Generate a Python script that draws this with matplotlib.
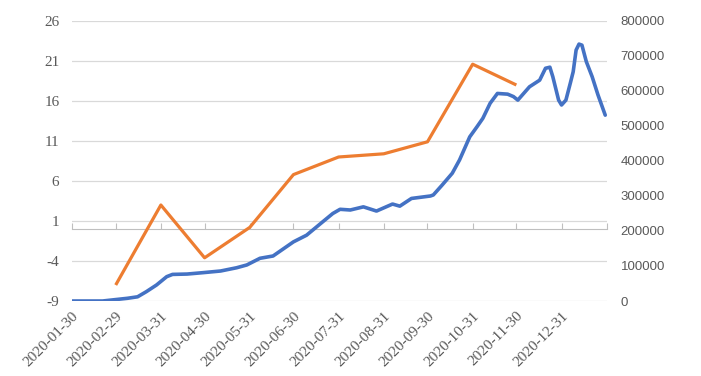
"""plot.py
Monthly series (left axis) against a daily series (right axis), 2020-01-30 .. 2021-01-31.
"""

import matplotlib

matplotlib.use("Agg")

import matplotlib.dates as mdates
import matplotlib.pyplot as plt
import numpy as np

plt.rcParams["font.family"] = ["Liberation Serif", "DejaVu Serif"]
plt.rcParams["axes.unicode_minus"] = False

# ---------------------------------------------------------------------------
# Data
# ---------------------------------------------------------------------------

month_dates = [
    "2020-02-29", "2020-03-31", "2020-04-30", "2020-05-31", "2020-06-30",
    "2020-07-31", "2020-08-31", "2020-09-30", "2020-10-31", "2020-11-30",
]
month_values = [-7.0, 3.0, -3.6, 0.2, 6.8, 9.0, 9.4, 10.9, 20.6, 18.0]

daily_dates = [
    "2020-01-30", "2020-02-20", "2020-03-08", "2020-03-15", "2020-03-21",
    "2020-03-28", "2020-04-04", "2020-04-08", "2020-04-18", "2020-04-29",
    "2020-05-11", "2020-05-22", "2020-05-29", "2020-06-07", "2020-06-16",
    "2020-06-30", "2020-07-09", "2020-07-20", "2020-07-27", "2020-08-01",
    "2020-08-08", "2020-08-17", "2020-08-26", "2020-09-06", "2020-09-11",
    "2020-09-19", "2020-10-02", "2020-10-04", "2020-10-10", "2020-10-17",
    "2020-10-22", "2020-10-29", "2020-11-03", "2020-11-07", "2020-11-12",
    "2020-11-17", "2020-11-24", "2020-11-28", "2020-12-01", "2020-12-09",
    "2020-12-16", "2020-12-20", "2020-12-23", "2020-12-25", "2020-12-29",
    "2020-12-31", "2021-01-03", "2021-01-06", "2021-01-08", "2021-01-10",
    "2021-01-12", "2021-01-14", "2021-01-17", "2021-01-21", "2021-01-25",
    "2021-01-30",
]
daily_values = [
    0, 0, 7700, 12000, 26600,
    45700, 69500, 76000, 77000, 81000,
    85700, 95000, 103000, 122000, 128600,
    169000, 188000, 226000, 250000, 262000,
    260000, 269000, 257000, 277000, 271000,
    293000, 300000, 303000, 331000, 365000,
    403000, 469000, 498000, 522000, 565000,
    593000, 591000, 584000, 574000, 612000,
    631000, 665000, 668000, 641000, 574000,
    560000, 574000, 622000, 655000, 717000,
    734000, 731000, 684000, 641000, 589000,
    531000,
]

tick_dates = [
    "2020-01-30", "2020-02-29", "2020-03-31", "2020-04-30", "2020-05-31",
    "2020-06-30", "2020-07-31", "2020-08-31", "2020-09-30", "2020-10-31",
    "2020-11-30", "2020-12-31",
]
x_end = "2021-01-31"

left_ticks = [-9, -4, 1, 6, 11, 16, 21, 26]
right_ticks = [0, 100000, 200000, 300000, 400000, 500000, 600000, 700000, 800000]

# ---------------------------------------------------------------------------
# Figure
# ---------------------------------------------------------------------------

BLUE = "#4472C4"
ORANGE = "#ED7D31"
GRID = "#D9D9D9"
TXT = "#595959"

fig = plt.figure(figsize=(7.01, 3.76), dpi=100)
ax = fig.add_axes([72 / 701, 1 - 301 / 376, (606.7 - 72) / 701, 280 / 376])
ax2 = ax.twinx()

to_dt = lambda seq: np.array(seq, dtype="datetime64[D]")

ax.plot(to_dt(month_dates), month_values, color=ORANGE, lw=2.3,
        solid_capstyle="butt", zorder=3)
ax2.plot(to_dt(daily_dates), daily_values, color=BLUE, lw=2.6,
         solid_capstyle="round", solid_joinstyle="round", zorder=3)

ax.set_xlim(to_dt([tick_dates[0]])[0], to_dt([x_end])[0])
ax.set_ylim(left_ticks[0], left_ticks[-1])
ax2.set_ylim(right_ticks[0], right_ticks[-1])

ax.set_yticks(left_ticks, [str(v) for v in left_ticks],
              fontfamily="Liberation Serif")
ax2.set_yticks(right_ticks, [str(v) for v in right_ticks],
               fontfamily="Liberation Sans")
ax.grid(axis="y", color=GRID, lw=0.9)
ax.set_axisbelow(True)

for a in (ax, ax2):
    for s in a.spines.values():
        s.set_visible(False)

ax.tick_params(axis="y", length=0, pad=9, labelcolor=TXT, labelsize=11)
ax2.tick_params(axis="y", length=0, pad=10, labelcolor=TXT, labelsize=9.5)

# date labels sit low, below the plot
dt_ticks = to_dt(tick_dates)
ax.set_xticks(dt_ticks, [d for d in tick_dates], fontfamily="Liberation Serif",
              rotation=45, ha="right", va="top", rotation_mode="anchor")
ax.tick_params(axis="x", length=0, pad=6, labelcolor=TXT, labelsize=11)

# horizontal axis line crossing at 0 on the left scale
sec = ax.secondary_xaxis((0 - left_ticks[0]) / (left_ticks[-1] - left_ticks[0]))
sec.set_xticks(to_dt(tick_dates + [x_end]))
sec.tick_params(axis="x", direction="in", length=4, color="#BFBFBF",
                labeltop=False, labelbottom=False)
for s in sec.spines.values():
    s.set_color("#BFBFBF")

fig.savefig("out.png", dpi=100)
